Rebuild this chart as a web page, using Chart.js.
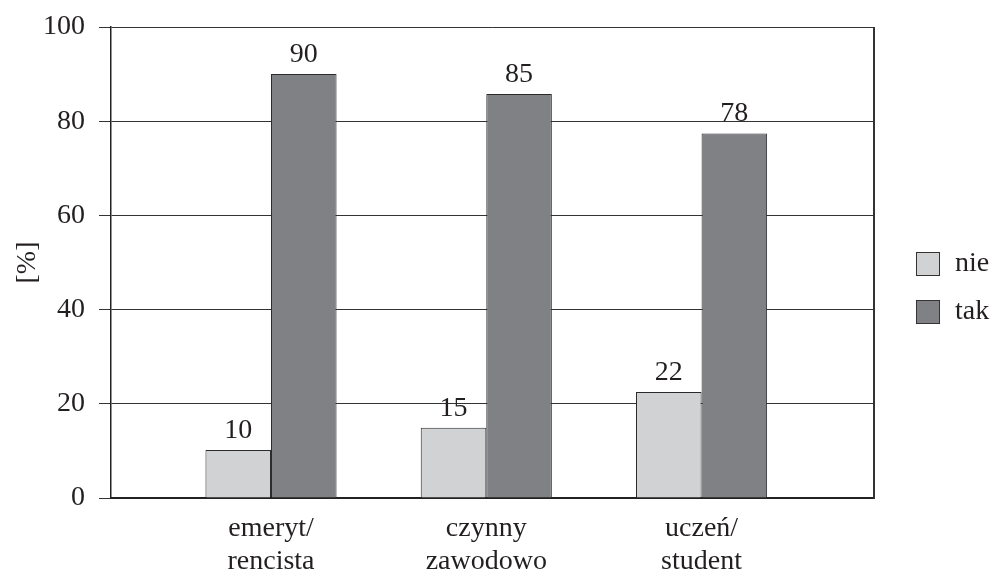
<!DOCTYPE html>
<html>
<head>
<meta charset="utf-8">
<script src="https://cdn.jsdelivr.net/npm/chart.js@4.4.1/dist/chart.umd.min.js"></script>
<style>
  html, body { margin: 0; padding: 0; background: #fff; }
  #wrap { width: 995px; height: 576px; }
</style>
</head>
<body>
<div id="wrap"><canvas id="js-chart-status"></canvas></div>
<script>
// Data
const categories = [["emeryt/", "rencista"], ["czynny", "zawodowo"], ["uczeń/", "student"]];
const seriesNames = ["nie", "tak"];
const nieValues = [10.2, 14.9, 22.5];
const takValues = [90, 85.8, 77.4];
const nieLabels = ["10", "15", "22"];
const takLabels = ["90", "85", "78"];
const yTicks = [0, 20, 40, 60, 80, 100];

const FONT = "'Liberation Serif', 'DejaVu Serif', serif";
const INK = "#231f20";
const colors = ["#d1d2d4", "#808185"];

// value labels above bars
const valueLabels = {
    id: "valueLabels",
    afterDatasetsDraw(chart) {
        const ctx = chart.ctx;
        const texts = [nieLabels, takLabels];
        ctx.save();
        ctx.font = "28px " + FONT;
        ctx.fillStyle = INK;
        ctx.textAlign = "center";
        ctx.textBaseline = "alphabetic";
        chart.data.datasets.forEach((ds, i) => {
            chart.getDatasetMeta(i).data.forEach((bar, j) => {
                ctx.fillText(texts[i][j], bar.x, bar.y - 12);
            });
        });
        ctx.restore();
    }
};

// right frame line + legend on the right
const frameAndLegend = {
    id: "frameAndLegend",
    afterDraw(chart) {
        const ctx = chart.ctx;
        const a = chart.chartArea;
        ctx.save();
        ctx.strokeStyle = "#333";
        ctx.lineWidth = 2;
        ctx.beginPath();
        ctx.moveTo(a.right, a.top);
        ctx.lineTo(a.right, a.bottom + 1);
        ctx.stroke();

        ctx.font = "28px " + FONT;
        ctx.textBaseline = "middle";
        ctx.textAlign = "left";
        chart.data.datasets.forEach((ds, i) => {
            const y = 252 + i * 48;
            ctx.fillStyle = ds.backgroundColor;
            ctx.fillRect(916.5, y + 0.5, 23, 23);
            ctx.lineWidth = 1;
            ctx.strokeStyle = "#333";
            ctx.strokeRect(916.5, y + 0.5, 23, 23);
            ctx.fillStyle = INK;
            ctx.fillText(ds.label, 955, y + 12);
        });
        ctx.restore();
    }
};

document.addEventListener("DOMContentLoaded", function() {
    const element = document.getElementById("js-chart-status");
    const toPoints = (vals) => vals.map((v, i) => ({ x: i + 1, y: v }));
    new Chart(element, {
        type: "bar",
        data: {
            datasets: [
                {
                    label: seriesNames[0],
                    data: toPoints(nieValues),
                    backgroundColor: colors[0],
                    borderColor: "#2a2a2a",
                    borderWidth: 1
                },
                {
                    label: seriesNames[1],
                    data: toPoints(takValues),
                    backgroundColor: colors[1],
                    borderColor: "#2a2a2a",
                    borderWidth: 1
                }
            ]
        },
        options: {
            responsive: true,
            maintainAspectRatio: false,
            animation: false,
            layout: { padding: { top: 27, right: 121, left: 0, bottom: 0 } },
            datasets: { bar: { categoryPercentage: 0.609, barPercentage: 1 } },
            scales: {
                x: {
                    type: "linear",
                    offset: false,
                    min: 0.2567,
                    max: 3.801,
                    grid: { display: false, offset: false },
                    border: { display: true, color: "#222", width: 2 },
                    afterBuildTicks: (scale) => {
                        scale.ticks = categories.map((_, i) => ({ value: i + 1 }));
                    },
                    afterFit: (scale) => {
                        scale.height = 78;
                        scale.paddingLeft = 0;
                        scale.paddingRight = 0;
                    },
                    ticks: {
                        autoSkip: false,
                        maxRotation: 0,
                        padding: 6,
                        color: INK,
                        font: { family: FONT, size: 28, lineHeight: 1.18 },
                        callback: (value) => categories[value - 1] || ""
                    }
                },
                y: {
                    min: 0,
                    max: 100,
                    afterBuildTicks: (scale) => {
                        scale.ticks = yTicks.map((v) => ({ value: v }));
                    },
                    afterFit: (scale) => {
                        scale.width = 111;
                        scale.paddingTop = 0;
                        scale.paddingBottom = 0;
                    },
                    grid: { color: "#333", lineWidth: 1, tickLength: 12 },
                    border: { display: true, color: "#222", width: 1.5 },
                    ticks: {
                        padding: 14,
                        color: INK,
                        font: { family: FONT, size: 28 }
                    },
                    title: {
                        display: true,
                        text: "[%]",
                        color: INK,
                        padding: { top: 11, bottom: 0 },
                        font: { family: FONT, size: 28 }
                    }
                }
            },
            plugins: {
                legend: { display: false },
                tooltip: { enabled: false }
            }
        },
        plugins: [valueLabels, frameAndLegend]
    });
});
</script>
</body>
</html>
